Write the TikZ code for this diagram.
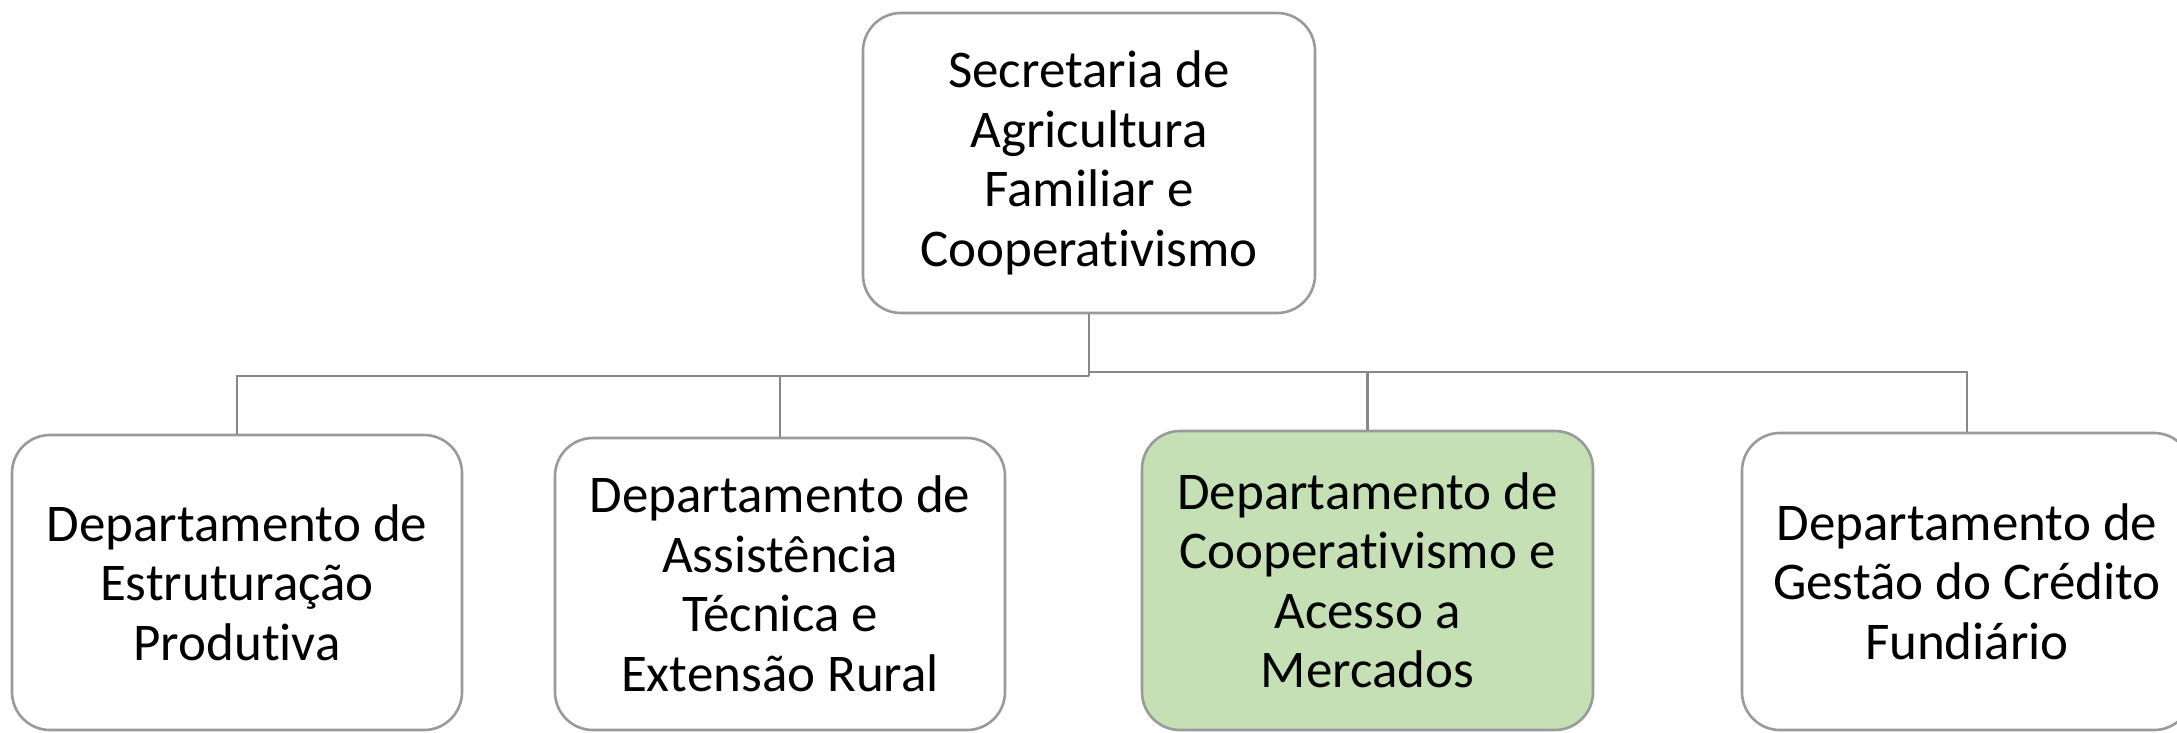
\documentclass[tikz,border=0pt]{standalone}
\usepackage{fontspec}
\setmainfont[Ligatures={NoCommon,NoContextual,NoRequired}]{Carlito}
\definecolor{boxgray}{HTML}{9A9A9A}
\definecolor{linegray}{HTML}{888888}
\definecolor{lightgreen}{HTML}{C5E0B4}
\begin{document}
\begin{tikzpicture}[x=1pt,y=-1pt,
  orgbox/.style={draw=boxgray, line width=2.6pt, rounded corners=38pt, fill=white,
    inner sep=0pt, align=center, text=black,
    font=\fontsize{53}{59.5}\selectfont},
  conn/.style={draw=linegray, line width=2.8pt}]
\useasboundingbox (0,0) rectangle (2177,732);
\clip (0,0) rectangle (2177,732);
\fill[white] (0,0) rectangle (2177,732);
\node[orgbox, minimum width=452pt, minimum height=300pt] (top) at (1089,163)
  {Secretaria de\\Agricultura\\Familiar e\\Cooperativismo};
\node[orgbox, minimum width=450pt, minimum height=295pt] (b1) at (237,582.5)
  {Departamento de\\Estruturação\\Produtiva};
\node[orgbox, minimum width=450pt, minimum height=292pt] (b2) at (780,584)
  {Departamento de\\Assistência\\Técnica e\\Extensão Rural};
\node[orgbox, fill=lightgreen, minimum width=451pt, minimum height=299pt] (b3) at (1367.5,580.5)
  {Departamento de\\Cooperativismo e\\Acesso a\\Mercados};
\node[orgbox, minimum width=450pt, minimum height=297pt] (b4) at (1967,581.5)
  {Departamento de\\Gestão do Crédito\\Fundiário};
\coordinate (hl) at (1089,376);
\coordinate (hr) at (1089,372);
\draw[conn] (top.south) -- (hl);
\draw[conn] (hl) -| (b1.north);
\draw[conn] (hl) -| (b2.north);
\draw[conn] (hr) -| (b3.north);
\draw[conn] (hr) -| (b4.north);
\end{tikzpicture}
\end{document}
